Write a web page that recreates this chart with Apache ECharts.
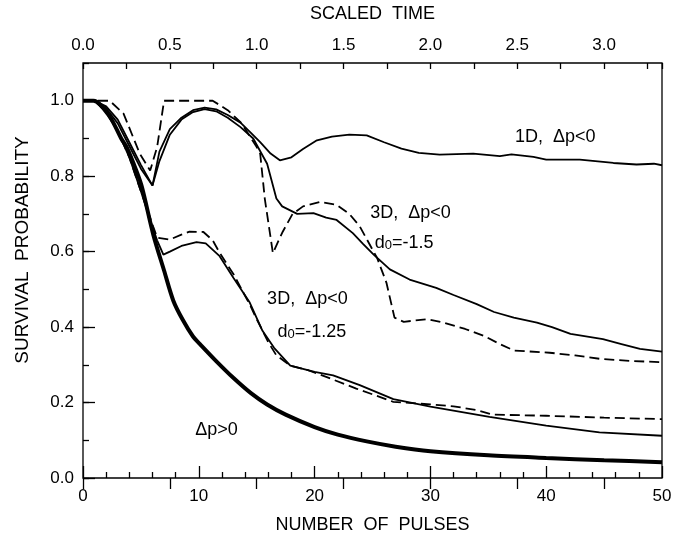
<!DOCTYPE html>
<html>
<head>
<meta charset="utf-8">
<script src="https://cdn.jsdelivr.net/npm/echarts@6/dist/echarts.min.js"></script>
<style>
  html, body { margin: 0; background: #fff; }
  #main { width: 694px; height: 539px; }
</style>
</head>
<body>
<div id="main"></div>
<script>
// values: number of pulses (x) and survival probability (y)
const pulses1D = [0, 1, 2, 3, 4, 5, 6, 6.6, 7.5, 8.5, 9.5, 10.5, 11.5, 12.5, 13.6, 14.5, 15.3, 16.2, 17, 18, 19, 20.2, 21.5, 23, 24.5, 26, 27.5, 29, 30.8, 33.7, 36, 37, 38.9, 40, 42.9, 45.8, 47.8, 49.3, 50]
const prob1D = [1, 1, 0.985, 0.95, 0.89, 0.83, 0.775, 0.865, 0.925, 0.955, 0.975, 0.982, 0.977, 0.962, 0.942, 0.915, 0.89, 0.86, 0.842, 0.85, 0.872, 0.895, 0.905, 0.91, 0.908, 0.89, 0.873, 0.862, 0.857, 0.86, 0.853, 0.858, 0.851, 0.844, 0.844, 0.835, 0.831, 0.833, 0.829]

const pulses3D15 = [0, 1, 2, 3, 4, 5, 6, 6.6, 7.5, 8.5, 9.5, 10.5, 11.5, 12.5, 13.6, 14.7, 15.9, 16.7, 17.2, 18.5, 19.9, 21, 21.9, 23.3, 24.2, 25.1, 26.5, 28.2, 30.5, 32, 34, 35.5, 37.2, 39.2, 40.5, 42.1, 44.9, 46.5, 48.1, 50]
const prob3D15 = [1, 1, 0.98, 0.94, 0.88, 0.82, 0.775, 0.84, 0.91, 0.95, 0.97, 0.978, 0.972, 0.955, 0.93, 0.9, 0.833, 0.741, 0.72, 0.7, 0.702, 0.69, 0.684, 0.649, 0.62, 0.592, 0.553, 0.526, 0.504, 0.485, 0.461, 0.44, 0.425, 0.412, 0.4, 0.382, 0.368, 0.355, 0.342, 0.335]

const pulses3D15d = [0, 2.3, 3.5, 4.9, 5.8, 6.4, 7, 11.2, 12.5, 13.7, 15, 15.3, 15.7, 16.4, 17.2, 18.1, 19, 20.5, 21.9, 23, 23.9, 25.4, 26.2, 26.9, 27.7, 29.7, 31.1, 33, 34.6, 36, 37.2, 40.3, 42.5, 44.6, 47.5, 50]
const prob3D15d = [1, 1, 0.966, 0.86, 0.815, 0.877, 1, 1, 0.975, 0.94, 0.877, 0.86, 0.74, 0.596, 0.65, 0.7, 0.72, 0.732, 0.724, 0.7, 0.667, 0.583, 0.518, 0.425, 0.414, 0.421, 0.412, 0.395, 0.377, 0.355, 0.338, 0.332, 0.325, 0.316, 0.31, 0.307]

const pulses3D125 = [0, 1, 2, 3, 4, 5, 5.8, 6.4, 6.94, 7.5, 8.5, 9.8, 10.6, 11.8, 13, 14.4, 15.5, 16.5, 17.9, 20, 21.6, 23.9, 26.8, 30, 35.1, 40, 44.6, 50]
const prob3D125 = [1, 1, 0.97, 0.92, 0.85, 0.76, 0.684, 0.63, 0.592, 0.6, 0.615, 0.625, 0.622, 0.588, 0.53, 0.465, 0.39, 0.345, 0.298, 0.281, 0.272, 0.246, 0.209, 0.189, 0.162, 0.139, 0.121, 0.112]

const pulses3D125d = [0, 1, 2, 3, 4, 5, 5.8, 6.07, 6.4, 7.5, 8.5, 9.2, 10.4, 11.2, 11.8, 13, 14.4, 15, 16, 16.7, 17.9, 19.5, 21, 23.6, 26.8, 30, 32, 34, 35.4, 40, 45, 50]
const prob3D125d = [1, 1, 0.97, 0.92, 0.85, 0.76, 0.69, 0.666, 0.637, 0.632, 0.645, 0.653, 0.652, 0.63, 0.597, 0.54, 0.46, 0.421, 0.36, 0.325, 0.298, 0.285, 0.268, 0.237, 0.202, 0.195, 0.19, 0.18, 0.168, 0.165, 0.16, 0.156]

const pulsesPos = [0, 0.9, 2.3, 3.3, 3.8, 4.6, 5.1, 6.07, 7, 7.8, 8.6, 9.5, 10.1, 11.5, 13, 14.5, 15.9, 17.5, 20, 22, 24.5, 27, 30, 35, 40, 45, 50]
const probPos = [1, 1, 0.958, 0.9, 0.875, 0.815, 0.77, 0.645, 0.55, 0.47, 0.42, 0.375, 0.355, 0.31, 0.265, 0.225, 0.195, 0.168, 0.135, 0.115, 0.097, 0.083, 0.071, 0.06, 0.053, 0.047, 0.042]

// curve labels, anchored at [pulses, probability]
const noteTexts = ['1D,  Δp<0', '3D,  Δp<0', 'd{s|0}=-1.5', '3D,  Δp<0', 'd{s|0}=-1.25', 'Δp>0']
const noteAt = [[37.3, 0.903], [24.8, 0.703], [25.2, 0.624], [15.9, 0.474], [16.8, 0.387], [9.7, 0.126]]

const FONT = 'Liberation Sans'
const zip = (xs, ys) => xs.map((x, i) => [x, ys[i]])

let myChart = echarts.init(document.getElementById('main'))

function line(data, width, dashed, smooth) {
  return {
    type: 'line',
    xAxisIndex: 0,
    yAxisIndex: 0,
    data: data,
    showSymbol: false,
    smooth: smooth,
    animation: false,
    lineStyle: { color: '#000', width: width, type: dashed ? [10, 5] : 'solid' }
  }
}

let option = {
  backgroundColor: '#fff',
  grid: {
    left: 83, right: 32, top: 62, bottom: 59,
    show: true, borderColor: '#000', borderWidth: 1.3
  },
  xAxis: [
    {
      type: 'value', position: 'bottom', min: 0, max: 50, interval: 10,
      name: 'NUMBER  OF  PULSES', nameLocation: 'middle', nameGap: 38,
      nameTextStyle: { fontFamily: FONT, fontSize: 18, color: '#000' },
      axisLine: { show: false },
      axisTick: { inside: true, length: 12, lineStyle: { color: '#000', width: 1.3 } },
      minorTick: { show: true, splitNumber: 5, length: 6, lineStyle: { color: '#000', width: 1.3 } },
      axisLabel: { fontFamily: FONT, fontSize: 17, color: '#000', margin: 10 },
      splitLine: { show: false }
    },
    {
      type: 'value', position: 'top', min: 0, max: 10 / 3, interval: 0.5,
      name: 'SCALED  TIME', nameLocation: 'middle', nameGap: 40,
      nameTextStyle: { fontFamily: FONT, fontSize: 18, color: '#000' },
      axisLine: { show: false },
      axisTick: { inside: true, length: 11, lineStyle: { color: '#000', width: 1.3 } },
      axisLabel: {
        fontFamily: FONT, fontSize: 17, color: '#000', margin: 9,
        showMaxLabel: false, formatter: v => v.toFixed(1)
      },
      splitLine: { show: false }
    },
    {
      type: 'value', position: 'top', min: 0, max: 10 / 3, interval: 0.25,
      axisLine: { show: false },
      axisTick: { inside: true, length: 6, lineStyle: { color: '#000', width: 1.3 } },
      axisLabel: { show: false },
      splitLine: { show: false }
    }
  ],
  yAxis: [
    {
      type: 'value', position: 'left', min: 0, max: 1.1, interval: 0.2,
      axisLine: { show: false },
      axisTick: { inside: true, length: 12, lineStyle: { color: '#000', width: 1.3 } },
      axisLabel: {
        fontFamily: FONT, fontSize: 17, color: '#000', margin: 9,
        showMaxLabel: false, formatter: v => v.toFixed(1)
      },
      splitLine: { show: false }
    },
    {
      type: 'value', position: 'left', min: 0, max: 1.1, interval: 0.1,
      axisLine: { show: false },
      axisTick: { inside: true, length: 6, lineStyle: { color: '#000', width: 1.3 } },
      axisLabel: { show: false },
      splitLine: { show: false }
    }
  ],
  series: [
    line(zip(pulsesPos, probPos), 4, false, 0.3),
    line(zip(pulses3D125, prob3D125), 1.8, false, false),
    line(zip(pulses3D125d, prob3D125d), 1.8, true, false),
    line(zip(pulses3D15, prob3D15), 1.8, false, false),
    line(zip(pulses3D15d, prob3D15d), 1.8, true, false),
    line(zip(pulses1D, prob1D), 1.8, false, false)
  ],
  graphic: [
    {
      type: 'text', x: 23, y: 250, rotation: Math.PI / 2,
      style: {
        text: 'SURVIVAL  PROBABILITY', fontFamily: FONT, fontSize: 19, fill: '#000',
        align: 'center', verticalAlign: 'middle'
      }
    }
  ]
}
myChart.setOption(option)

// place the curve labels through the chart's own coordinate system
let notes = noteTexts.map((t, i) => {
  let p = myChart.convertToPixel({ xAxisIndex: 0, yAxisIndex: 0 }, noteAt[i])
  return {
    type: 'text', x: p[0], y: p[1],
    style: {
      text: t, fontFamily: FONT, fontSize: 18, fill: '#000',
      align: 'left', verticalAlign: 'middle',
      rich: {
        s: { fontFamily: FONT, fontSize: 13, fill: '#000', verticalAlign: 'bottom', lineHeight: 13 }
      }
    }
  }
})
myChart.setOption({ graphic: option.graphic.concat(notes) })
</script>
</body>
</html>
